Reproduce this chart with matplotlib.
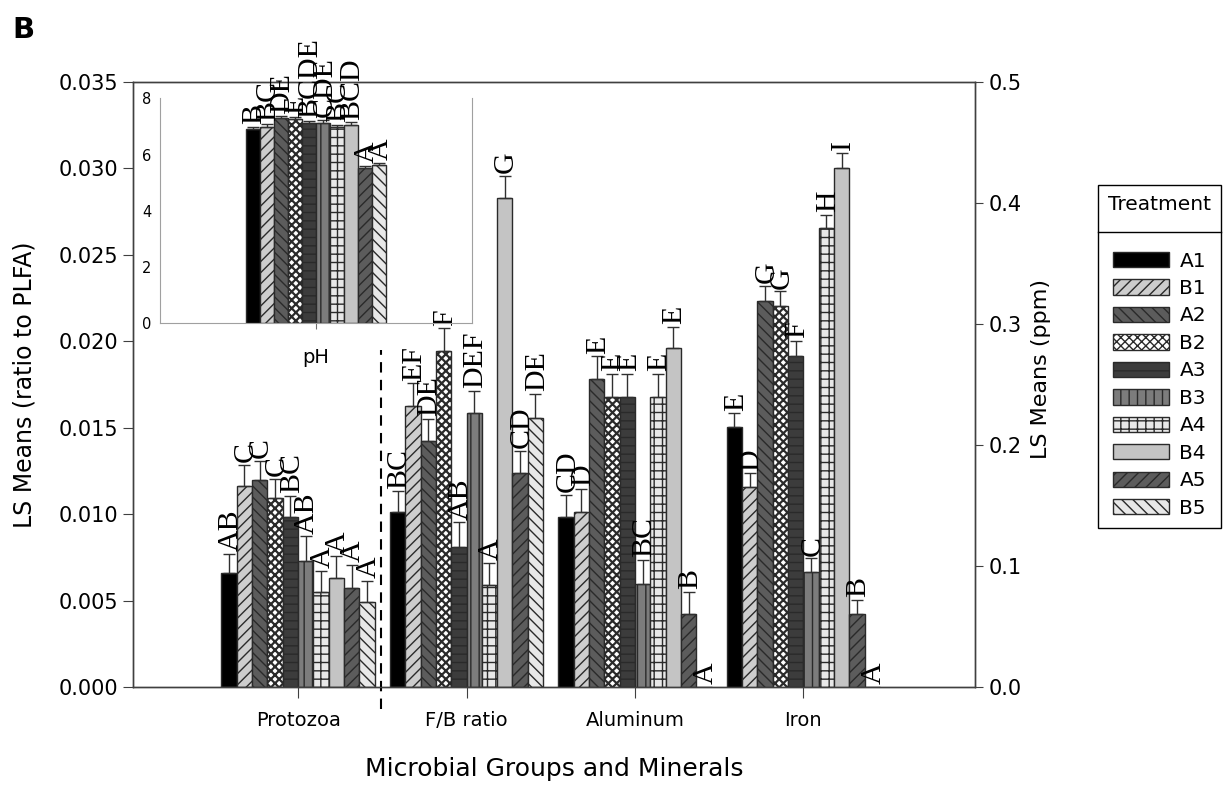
import matplotlib
matplotlib.use("Agg")
import matplotlib.pyplot as plt
from matplotlib.patches import Patch
from matplotlib.lines import Line2D
import numpy as np

plt.rcParams['font.family'] = ['DejaVu Sans']
plt.rcParams['hatch.linewidth'] = 1.0

groups = ['Protozoa', 'F/B ratio', 'Aluminum', 'Iron']
treatments = ['A1', 'B1', 'A2', 'B2', 'A3', 'B3', 'A4', 'B4', 'A5', 'B5']

# left axis (ratio to PLFA)
protozoa = [0.00658, 0.01163, 0.01198, 0.01092, 0.00985, 0.00731, 0.0055, 0.0063, 0.00575, 0.00492]
protozoa_err = [0.0011, 0.0012, 0.0011, 0.0011, 0.0012, 0.0014, 0.0012, 0.0013, 0.0013, 0.0012]
protozoa_letters = ['AB', 'C', 'C', 'C', 'BC', 'AB', 'A', 'A', 'A', 'A']

fb_ratio = [0.01011, 0.01626, 0.01423, 0.01944, 0.00812, 0.01583, 0.0059, 0.02827, 0.01236, 0.01554]
fb_err = [0.0012, 0.0013, 0.0013, 0.0013, 0.0014, 0.0013, 0.0013, 0.0013, 0.0013, 0.0014]
fb_letters = ['BC', 'EF', 'DE', 'F', 'AB', 'DEF', 'A', 'G', 'CD', 'DE']

# right axis (ppm)
aluminum = [0.1407, 0.1449, 0.2543, 0.2399, 0.2399, 0.0849, 0.2399, 0.2799, 0.0603, 0.0]
aluminum_err = [0.018, 0.0185, 0.019, 0.019, 0.019, 0.020, 0.019, 0.018, 0.0185, 0.0]
aluminum_letters = ['CD', 'D', 'E', 'E', 'E', 'BC', 'E', 'E', 'B', 'A']

iron = [0.2151, 0.1655, 0.3193, 0.3149, 0.2738, 0.0948, 0.379, 0.4292, 0.0603, 0.0]
iron_err = [0.011, 0.011, 0.012, 0.012, 0.012, 0.0115, 0.011, 0.012, 0.0116, 0.0]
iron_letters = ['E', 'D', 'G', 'G', 'F', 'C', 'H', 'I', 'B', 'A']

# inset
ph = [6.90, 6.99, 7.29, 7.26, 7.11, 7.13, 6.97, 7.05, 5.51, 5.61]
ph_err = [0.09, 0.09, 0.08, 0.08, 0.09, 0.09, 0.08, 0.09, 0.09, 0.08]
ph_letters = ['B', 'BC', 'DE', 'E', 'BCDE', 'CDE', 'BC', 'BCD', 'A', 'A']

faces = ['black', '#cdcdcd', '#5c5c5c', 'white', '#3c3c3c', '#7c7c7c', '#e8e8e8', '#c4c4c4', '#5c5c5c', '#e8e8e8']
hatches = [None, '///', '\\\\\\', 'xxxx', '--', '||', '++', None, '///', '\\\\\\']
hatch_lw = [1.0, 1.0, 1.0, 1.6, 1.0, 1.0, 1.0, 1.0, 1.0, 1.0]
edge = '#2a2a2a'

fig = plt.figure(figsize=(12.31, 7.86), dpi=100)
ax = fig.add_axes([0.1081, 0.126, 0.684, 0.7697])
ax2 = ax.twinx()

w = 0.091


def draw_group(a, center, vals, errs, letters, bw):
    for j in range(10):
        x = center + (j - 4.5) * bw
        with plt.rc_context({'hatch.linewidth': hatch_lw[j]}):
            a.bar(x, vals[j], bw, color=faces[j], edgecolor=edge, linewidth=1.0,
                  hatch=hatches[j], zorder=2)
        if errs[j] > 0:
            a.errorbar(x, vals[j], yerr=[[0], [errs[j]]], fmt='none', ecolor='#303030',
                       elinewidth=1.0, capsize=4.3, capthick=1.0, zorder=3)
        a.annotate(letters[j], (x, vals[j] + errs[j]), xytext=(1, 2), textcoords='offset points',
                   rotation=90, ha='center', va='bottom', fontsize=21.5,
                   family='Liberation Serif', annotation_clip=False, zorder=4)


draw_group(ax, 1, protozoa, protozoa_err, protozoa_letters, w)
draw_group(ax, 2, fb_ratio, fb_err, fb_letters, w)
draw_group(ax2, 3, aluminum, aluminum_err, aluminum_letters, w)
draw_group(ax2, 4, iron, iron_err, iron_letters, w)

ax.set_xlim(0.02, 5.02)
ax.set_ylim(0, 0.035)
ax2.set_ylim(0, 0.5)
ax.set_yticks(np.arange(0, 0.0351, 0.005))
ax.set_yticklabels(['%.3f' % v for v in np.arange(0, 0.0351, 0.005)])
ax2.set_yticks(np.arange(0, 0.51, 0.1))
ax2.set_yticklabels(['%.1f' % v for v in np.arange(0, 0.51, 0.1)])
ax.set_xticks([1, 2, 3, 4])
ax.set_xticklabels(groups, fontsize=14)
ax.tick_params(axis='y', labelsize=15, direction='out', length=7, color='#404040', pad=4)
ax2.tick_params(axis='y', labelsize=15, direction='out', length=6, color='#404040', pad=4)
ax.tick_params(axis='x', direction='out', length=8, color='#404040', pad=9)
for a in (ax, ax2):
    for s in a.spines.values():
        s.set_color('#404040')
        s.set_linewidth(1.0)

ax.set_ylabel('LS Means (ratio to PLFA)', fontsize=17)
ax.yaxis.set_label_coords(-0.115, 0.5)
ax2.set_ylabel('LS Means (ppm)', fontsize=16)
ax2.yaxis.set_label_coords(1.066, 0.526)
ax.set_xlabel('Microbial Groups and Minerals', fontsize=18)
ax.xaxis.set_label_coords(0.5, -0.115)

# dashed separator between Protozoa and F/B ratio
ax.plot([1.49, 1.49], [-0.00125, 0.0195], linestyle=(0, (5, 3.5)), color='black',
        linewidth=1.5, clip_on=False, zorder=5)

# inset with pH
axi = fig.add_axes([0.13, 0.5887, 0.2532, 0.2863], facecolor='none')
draw_group(axi, 1, ph, ph_err, ph_letters, 0.09)
axi.set_xlim(0, 2)
axi.set_ylim(0, 8)
axi.set_yticks([0, 2, 4, 6, 8])
axi.set_xticks([1])
axi.set_xticklabels(['pH'], fontsize=14)
axi.tick_params(axis='y', labelsize=10.5, length=0, pad=6)
axi.tick_params(axis='x', length=4, color='#707070', pad=14)
axi.spines['top'].set_visible(False)
for s in ('left', 'right', 'bottom'):
    axi.spines[s].set_color('#a0a0a0')

# legend
handles = []
for j in range(10):
    with plt.rc_context({'hatch.linewidth': hatch_lw[j]}):
        handles.append(Patch(facecolor=faces[j], edgecolor=edge, hatch=hatches[j], linewidth=1.0))
leg = fig.legend(handles, treatments, loc='upper left', bbox_to_anchor=(1098 / 1231, 1 - 185 / 786),
                 title='Treatment', fontsize=14.5, title_fontsize=14.5, frameon=True, fancybox=False,
                 edgecolor='black', framealpha=1, handlelength=2.8, handleheight=0.8, labelspacing=0.42,
                 handletextpad=0.5, borderpad=0.5, borderaxespad=0)
leg.get_frame().set_linewidth(1.0)
leg._legend_box.sep = 27

fig.canvas.draw()
bb = leg.get_window_extent()
fig.add_artist(Line2D([bb.x0 / 1231, bb.x1 / 1231], [1 - 232 / 786, 1 - 232 / 786],
                      color='black', linewidth=1.0, transform=fig.transFigure, zorder=10))

fig.text(12 / 1231, 1 - 38 / 786, 'B', fontsize=21, fontweight='bold', family='DejaVu Sans')

fig.savefig('out.png', dpi=100)
